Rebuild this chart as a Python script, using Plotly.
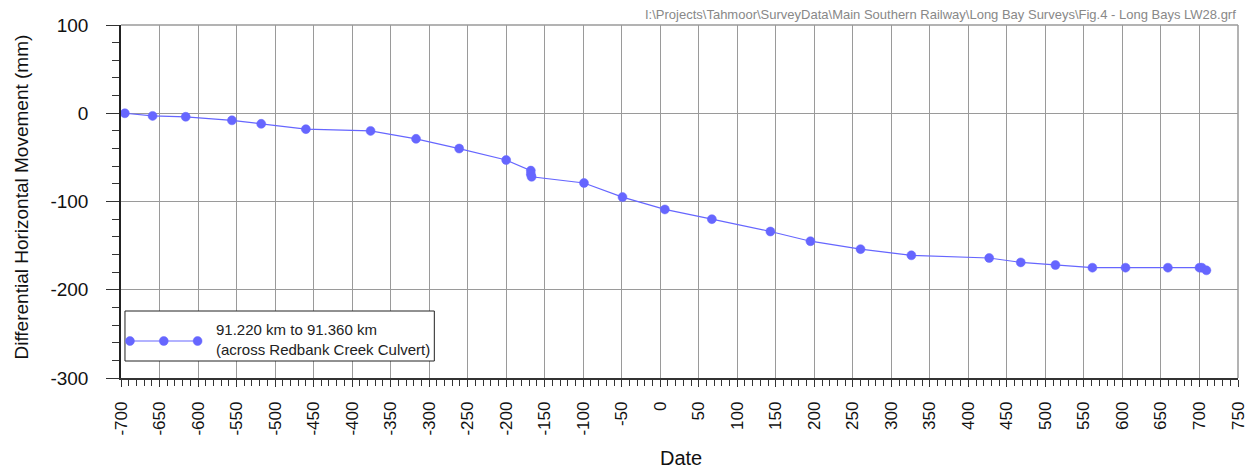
import plotly.graph_objects as go

# Survey data: days relative to reference date vs differential horizontal movement (mm)
days = [-695, -659, -616, -556, -518, -460, -376, -317, -261, -200,
        -168, -168, -167, -99, -49, 6, 67, 143, 195, 260,
        326, 427, 468, 513, 561, 604, 659, 700, 703, 709]
movement = [0, -3, -4, -8, -12, -18, -20, -29, -40, -53,
            -65, -69, -72, -79, -95, -109, -120, -134, -145, -154,
            -161, -164, -169, -172, -175, -175, -175, -175, -175, -178]

series_name = "91.220 km to 91.360 km<br>(across Redbank Creek Culvert)"
file_path = r"I:\Projects\Tahmoor\SurveyData\Main Southern Railway\Long Bay Surveys\Fig.4 - Long Bays LW28.grf"

x_ticks = list(range(-700, 751, 50))
y_ticks = [100, 0, -100, -200, -300]

W, H = 1260, 472
L, R, T, B = 121, 16, 25, 94
PW, PH = W - L - R, H - T - B

def fx(px):
    return (px - L) / PW

def fy(py):
    return (H - B - py) / PH

BLUE = "#6666ff"
GRID = "#9a9a9a"
FONT = "Liberation Sans, Arial, sans-serif"

fig = go.Figure()
fig.add_trace(go.Scatter(
    x=days, y=movement, mode="lines+markers",
    line=dict(color=BLUE, width=1.2),
    marker=dict(symbol="circle", size=9, color=BLUE, line=dict(color=BLUE, width=0.5)),
    showlegend=False, name=series_name,
))

fig.update_layout(
    width=W, height=H,
    margin=dict(l=L, r=R, t=T, b=B),
    paper_bgcolor="white", plot_bgcolor="white",
    font=dict(family=FONT, color="#111"),
    showlegend=False,
)

fig.update_xaxes(
    range=[-700, 750], tickmode="array", tickvals=x_ticks,
    ticktext=[str(v) for v in x_ticks], tickangle=-90,
    tickfont=dict(size=17, family=FONT, color="#111"),
    showgrid=True, gridcolor=GRID, gridwidth=1.2,
    zeroline=False, showline=True, linecolor="#333", linewidth=1.5,
    ticks="outside", ticklen=7, tickcolor="#333", tickwidth=1,
    ticklabelstandoff=8,
    minor=dict(dtick=10, tick0=0, ticks="outside", ticklen=6, tickcolor="#333", tickwidth=1, showgrid=False),
)
fig.update_yaxes(
    range=[-300, 100], tickmode="array", tickvals=y_ticks,
    ticktext=[str(v) for v in y_ticks],
    tickfont=dict(size=19, family=FONT, color="#111"),
    showgrid=True, gridcolor=GRID, gridwidth=1.2,
    zeroline=False, showline=True, linecolor="#222", linewidth=1.5,
    ticks="outside", ticklen=13, tickcolor="#333", tickwidth=1,
    ticklabelstandoff=14,
    minor=dict(dtick=20, tick0=0, ticks="outside", ticklen=7, tickcolor="#333", tickwidth=1, showgrid=False),
)

shapes = [
    # top and right frame
    dict(type="line", xref="paper", yref="paper", x0=0, x1=1, y0=1, y1=1, line=dict(color=GRID, width=1.5)),
    dict(type="line", xref="paper", yref="paper", x0=1, x1=1, y0=0, y1=1, line=dict(color=GRID, width=1.5)),
    # legend box
    dict(type="rect", xref="paper", yref="paper", x0=fx(125), x1=fx(436), y0=fy(361), y1=fy(311),
         line=dict(color="#222", width=1), fillcolor="white"),
    # legend line sample
    dict(type="line", xref="paper", yref="paper", x0=fx(130), x1=fx(198), y0=fy(341), y1=fy(341),
         line=dict(color=BLUE, width=1.2)),
]
for cx in (130, 164, 198):
    shapes.append(dict(type="circle", xref="paper", yref="paper",
                       x0=fx(cx - 4.5), x1=fx(cx + 4.5), y0=fy(345.5), y1=fy(336.5),
                       fillcolor=BLUE, line=dict(color=BLUE, width=0.5)))
fig.update_layout(shapes=shapes)

fig.add_annotation(text=series_name, xref="paper", yref="paper", x=fx(215), y=fy(339),
                   xanchor="left", yanchor="middle", align="left", showarrow=False,
                   font=dict(size=15, family=FONT, color="#222"))
fig.add_annotation(text=file_path, xref="paper", yref="paper", x=1, y=fy(14),
                   xanchor="right", yanchor="middle", showarrow=False,
                   font=dict(size=13, family=FONT, color="#888"))
fig.add_annotation(text="Date", xref="paper", yref="paper", x=fx(684), y=fy(458),
                   xanchor="center", yanchor="middle", showarrow=False,
                   font=dict(size=20, family=FONT, color="#111"))
fig.add_annotation(text="Differential Horizontal Movement (mm)", xref="paper", yref="paper",
                   x=fx(20), y=fy(197), textangle=-90,
                   xanchor="center", yanchor="middle", showarrow=False,
                   font=dict(size=19, family=FONT, color="#111"))

fig.write_html("out.html")
